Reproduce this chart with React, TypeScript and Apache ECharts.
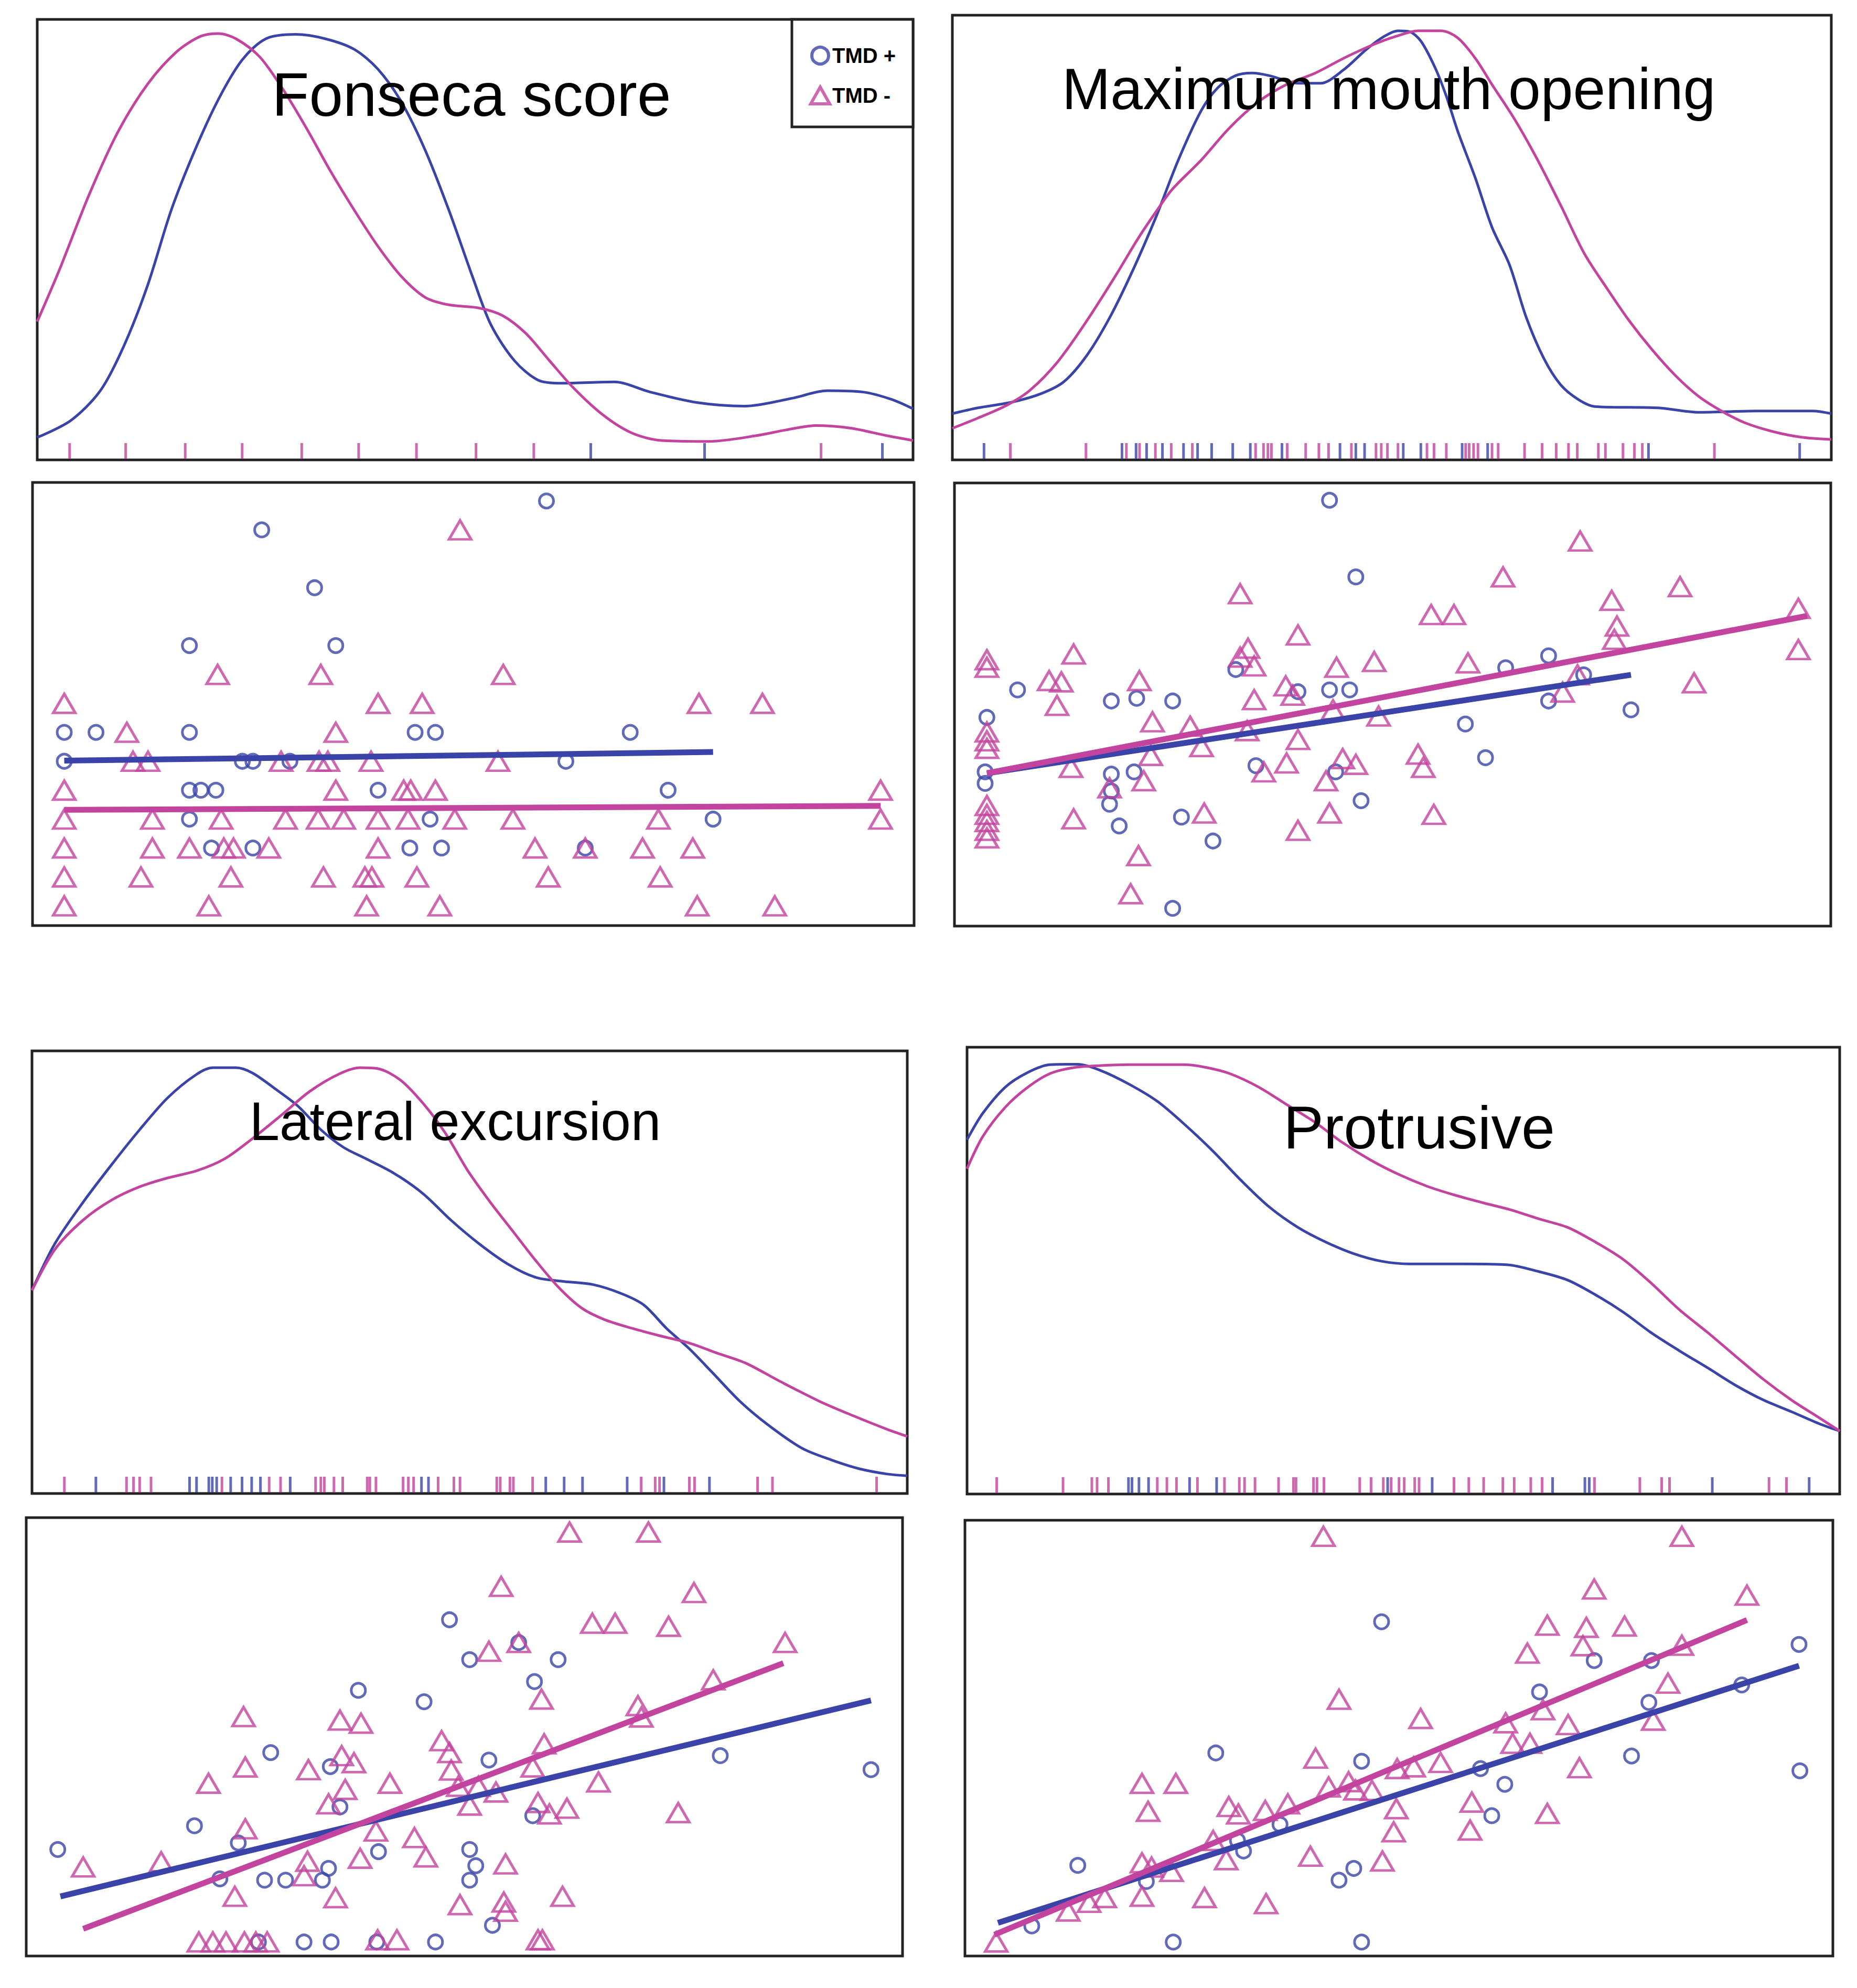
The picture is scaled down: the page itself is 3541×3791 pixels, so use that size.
import React, { useEffect, useRef } from 'react';
import * as echarts from 'echarts';

const BLUE = '#3a44a8';
const MAGENTA = '#c2449e';
const FONT = '"Liberation Sans", Arial, Helvetica, sans-serif';

const panelTitles = ['Fonseca score', 'Maximum mouth opening', 'Lateral excursion', 'Protrusive'];
const legendNames = ['TMD +', 'TMD -'];

// ---- Fonseca score (x: % of range, y: density % of panel) ----
const fonsecaDensityPos = [
  [0, 5.1], [3.8, 8.9], [7.2, 15.7], [9.9, 25.9], [12.6, 39.6], [15.3, 56.7], [18.0, 70.3], [20.7, 81.9],
  [23.4, 90.8], [26.1, 95.6], [29.5, 96.6], [32.9, 95.6], [36.2, 93.2], [38.9, 88.7], [41.6, 81.2], [44.3, 70.3],
  [47.0, 56.7], [49.7, 41.6], [51.8, 30.7], [54.5, 22.5], [57.2, 18.1], [59.9, 17.4], [65.9, 17.7], [70.0, 15.4],
  [75.4, 13.0], [80.8, 12.2], [86.2, 14.0], [90.2, 15.7], [94.3, 15.4], [97.6, 13.7], [100, 11.6],
];
const fonsecaDensityNeg = [
  [0, 31.4], [2.5, 43.0], [5.9, 60.1], [9.2, 74.4], [12.6, 85.3], [16.0, 92.8], [18.7, 96.2], [20.7, 96.8],
  [22.7, 95.6], [25.4, 91.5], [28.1, 84.0], [30.8, 75.1], [33.5, 65.5], [36.2, 56.7], [38.9, 48.5], [41.6, 41.6],
  [44.3, 36.9], [47.0, 35.2], [50.4, 34.5], [53.1, 32.8], [55.8, 28.7], [58.5, 22.5], [61.2, 16.4], [64.6, 10.2],
  [67.9, 6.1], [71.3, 4.4], [76.7, 4.2], [82.1, 5.5], [85.5, 6.8], [88.9, 7.8], [92.9, 7.2], [97.0, 5.5], [100, 4.4],
];
const fonsecaRugPos = [63.2, 76.2, 96.5];
const fonsecaRugNeg = [3.7, 10.1, 16.9, 23.4, 30.2, 36.7, 43.3, 50.1, 56.7, 89.5];
// y is the score level (0..14)
const fonsecaScatterPos = [
  [58.3, 14], [26.0, 13], [32.0, 11], [17.8, 9], [34.4, 9],
  [3.6, 6], [7.2, 6], [17.8, 6], [43.4, 6], [45.7, 6], [67.8, 6],
  [3.6, 5], [23.8, 5], [25.0, 5], [29.2, 5], [60.5, 5],
  [17.8, 4], [19.1, 4], [20.8, 4], [39.2, 4], [72.1, 4],
  [17.8, 3], [45.1, 3], [77.2, 3],
  [20.3, 2], [25.0, 2], [42.8, 2], [46.4, 2], [62.7, 2],
];
const fonsecaScatterNeg = [
  [48.5, 13],
  [21.0, 8], [32.7, 8], [53.4, 8],
  [3.6, 7], [39.2, 7], [44.2, 7], [75.6, 7], [82.8, 7],
  [10.7, 6], [34.4, 6],
  [11.4, 5], [13.1, 5], [28.2, 5], [32.5, 5], [33.5, 5], [38.4, 5], [52.8, 5],
  [3.6, 4], [34.4, 4], [42.1, 4], [42.9, 4], [45.7, 4], [96.2, 4],
  [3.6, 3], [13.6, 3], [21.4, 3], [28.7, 3], [32.4, 3], [35.3, 3], [39.2, 3], [42.6, 3], [47.9, 3], [54.5, 3], [71.0, 3], [96.2, 3],
  [3.6, 2], [13.6, 2], [17.8, 2], [21.7, 2], [22.8, 2], [26.8, 2], [39.2, 2], [57.0, 2], [62.7, 2], [69.2, 2], [74.9, 2],
  [3.6, 1], [12.3, 1], [22.5, 1], [33.0, 1], [37.7, 1], [38.5, 1], [43.6, 1], [58.5, 1], [71.2, 1],
  [3.6, 0], [20.0, 0], [37.9, 0], [46.2, 0], [75.4, 0], [84.2, 0],
];
const fonsecaFitPos = [[3.6, 5.02], [77.2, 5.32]];
const fonsecaFitNeg = [[3.6, 3.32], [96.2, 3.46]];

// ---- Maximum mouth opening ----
const mouthDensityPos = [
  [0, 10.4], [2.9, 11.7], [6.8, 13.0], [10.1, 14.9], [12.7, 17.6], [15.3, 23.5], [17.9, 32.0], [20.5, 42.5],
  [23.1, 54.3], [25.7, 67.4], [28.3, 78.5], [30.2, 83.7], [32.2, 86.4], [34.1, 87.0], [36.1, 86.4], [39.3, 84.7],
  [41.9, 84.7], [44.5, 87.7], [47.1, 92.3], [49.1, 95.2], [50.7, 96.5], [52.0, 96.3], [53.3, 94.2], [54.9, 88.3],
  [56.2, 81.8], [57.5, 73.9], [59.5, 63.4], [61.4, 52.3], [63.4, 43.8], [65.3, 32.0], [67.3, 22.8], [69.2, 16.9],
  [71.2, 13.6], [73.1, 12.0], [80.3, 11.7], [84.9, 10.7], [91.4, 11.0], [97.9, 11.0], [100, 10.4],
];
const mouthDensityNeg = [
  [0, 7.1], [2.9, 9.4], [6.2, 12.3], [8.8, 15.6], [12.0, 22.1], [15.3, 31.3], [18.5, 41.2], [21.1, 49.7],
  [23.1, 55.6], [25.0, 60.8], [28.3, 67.4], [31.5, 74.6], [34.8, 80.5], [38.0, 84.4], [41.3, 87.0], [44.5, 90.3],
  [47.8, 93.3], [50.4, 95.2], [53.0, 96.5], [55.6, 96.5], [57.5, 94.9], [59.5, 90.3], [61.4, 84.4], [64.0, 76.5],
  [66.6, 67.4], [69.3, 56.9], [71.9, 46.4], [74.5, 38.5], [77.0, 31.3], [79.6, 24.8], [82.3, 18.9], [84.9, 14.3],
  [87.5, 11.0], [90.1, 8.4], [93.3, 6.4], [96.6, 5.1], [100, 4.6],
];
const mouthRugPos = [3.6, 19.3, 20.9, 22.1, 23.9, 26.3, 27.9, 29.5, 31.9, 33.9, 37.5, 44.1, 45.9, 46.9, 51.3, 53.3, 58.0, 60.9, 79.2, 96.4];
const mouthRugNeg = [
  6.6, 15.2, 19.8, 21.3, 23.1, 24.9, 27.3, 34.5, 35.4, 35.9, 36.3, 38.1, 40.2, 41.7, 42.8, 45.4, 48.2, 48.8, 49.5, 50.7,
  54.0, 54.8, 56.2, 58.4, 58.8, 59.3, 59.8, 61.4, 62.1, 65.1, 67.1, 68.7, 70.1, 71.1, 73.5, 74.3, 76.3, 77.6, 78.5, 86.7,
];
const mouthScatterPos = [
  [42.8, 96.1], [45.8, 78.8], [7.2, 53.3], [17.9, 50.8], [20.8, 51.4], [24.9, 50.8], [3.7, 47.1], [32.1, 57.9],
  [39.2, 52.9], [42.8, 53.3], [45.1, 53.3], [62.9, 58.3], [67.8, 61.0], [71.8, 56.7], [67.8, 50.8], [77.2, 48.8],
  [58.3, 45.6], [60.6, 38.0], [34.4, 36.2], [43.5, 34.8], [46.4, 28.3], [3.5, 34.8], [3.5, 32.2], [17.9, 34.3],
  [20.5, 34.8], [17.9, 30.5], [17.7, 27.5], [18.8, 22.6], [25.9, 24.6], [29.5, 19.2], [24.9, 4.0],
];
const mouthScatterNeg = [
  [32.6, 75.0], [62.6, 78.8], [71.4, 86.9], [82.8, 76.6], [75.0, 73.5], [54.4, 70.3], [57.0, 70.3], [96.3, 71.7],
  [75.6, 67.7], [75.3, 64.7], [96.3, 62.4], [39.2, 65.7], [13.6, 61.4], [3.7, 60.1], [3.7, 58.4], [33.5, 62.7],
  [32.6, 60.7], [34.2, 58.7], [43.6, 58.4], [47.9, 59.7], [58.6, 59.4], [10.8, 55.4], [12.2, 55.1], [21.1, 55.4],
  [37.8, 54.2], [38.6, 52.1], [11.7, 49.8], [34.2, 51.1], [84.4, 54.9], [69.4, 52.8], [71.1, 56.7], [22.6, 46.1],
  [26.9, 45.1], [3.7, 43.8], [3.7, 41.8], [3.7, 40.1], [28.2, 40.5], [22.4, 38.5], [39.2, 42.1], [48.4, 47.4],
  [43.2, 48.8], [13.3, 35.8], [21.6, 32.8], [35.3, 34.8], [37.9, 36.8], [44.3, 37.8], [45.8, 36.5], [42.4, 32.8],
  [52.9, 38.8], [53.5, 35.8], [17.7, 31.2], [3.7, 27.2], [3.7, 25.2], [3.7, 23.6], [3.7, 21.6], [3.7, 19.9],
  [13.6, 24.2], [28.5, 25.5], [42.8, 25.5], [54.7, 25.2], [39.2, 21.6], [21.0, 15.9], [20.1, 7.3], [33.4, 44.1],
];
const mouthFitPos = [[3.7, 34.5], [77.2, 56.7]];
const mouthFitNeg = [[3.7, 34.5], [97.3, 70.0]];

// ---- Lateral excursion ----
const lateralDensityPos = [
  [0, 45.9], [2.6, 56.4], [5.8, 65.7], [9.1, 74.3], [12.3, 82.2], [15.5, 89.4], [18.8, 94.7], [20.7, 96.2],
  [23.3, 96.2], [25.2, 95.0], [27.8, 91.4], [30.4, 87.5], [33.0, 82.2], [35.6, 78.2], [38.2, 75.6], [41.4, 72.3],
  [44.7, 67.7], [47.9, 61.7], [51.1, 56.4], [54.4, 51.8], [57.6, 48.8], [60.8, 47.9], [64.1, 47.2], [67.3, 45.2],
  [69.9, 42.6], [72.5, 37.3], [75.1, 32.7], [77.7, 27.4], [80.9, 20.8], [84.1, 15.5], [88.0, 10.2], [91.3, 7.6],
  [94.5, 5.6], [97.7, 4.4], [100, 4.0],
];
const lateralDensityNeg = [
  [0, 45.9], [2.6, 55.1], [5.8, 61.7], [9.1, 66.3], [12.3, 69.3], [15.5, 71.3], [18.8, 72.9], [22.0, 75.6],
  [25.2, 80.2], [28.5, 85.5], [31.7, 90.8], [35.0, 94.7], [37.5, 96.2], [39.5, 96.0], [42.1, 93.4], [44.7, 88.1],
  [47.2, 81.5], [49.8, 72.9], [52.4, 65.7], [55.0, 59.1], [57.6, 52.5], [60.2, 46.5], [62.8, 41.9], [65.4, 39.3],
  [68.6, 37.3], [71.8, 35.6], [75.1, 34.0], [78.3, 31.7], [81.6, 29.4], [85.4, 25.4], [90.0, 20.8], [93.9, 17.5],
  [97.7, 14.5], [100, 12.9],
];
const lateralRugPos = [7.3, 18.0, 18.8, 20.2, 20.6, 21.1, 22.7, 24.0, 25.1, 26.1, 29.5, 44.5, 45.3, 58.7, 60.8, 62.9, 68.0, 72.2, 77.4];
const lateralRugNeg = [
  3.7, 10.8, 11.6, 12.3, 13.6, 21.7, 27.1, 28.4, 32.4, 33.0, 33.4, 34.5, 35.5, 38.3, 38.6, 39.3, 42.4, 43.0,
  43.6, 46.4, 48.2, 48.9, 53.1, 53.5, 54.6, 55.0, 57.2, 69.6, 71.2, 71.7, 75.1, 75.7, 82.9, 84.6, 96.5,
];
const lateralScatterPos = [
  [3.6, 24.3], [19.2, 29.7], [24.2, 25.8], [27.9, 46.4], [34.7, 43.2], [35.8, 34.0], [37.9, 60.6], [45.4, 58.0],
  [48.3, 76.7], [50.6, 67.6], [56.2, 71.5], [60.7, 67.6], [58.0, 62.6], [52.8, 44.7], [57.8, 32.0], [79.2, 45.7],
  [96.4, 42.5], [40.2, 23.8], [34.5, 20.0], [27.2, 17.3], [29.6, 17.3], [33.8, 17.3], [22.1, 17.6], [50.6, 24.3],
  [51.3, 20.6], [50.6, 17.3], [53.2, 7.0], [31.7, 3.2], [34.8, 3.2], [40.0, 3.2], [46.7, 3.2], [26.5, 3.2],
];
const lateralScatterNeg = [
  [62.0, 96.7], [71.0, 96.7], [54.2, 84.3], [76.2, 82.9], [64.6, 75.9], [67.2, 75.9], [73.3, 75.2], [86.6, 71.5],
  [52.8, 69.5], [56.2, 71.5], [58.8, 58.6], [78.4, 63.0], [69.8, 57.1], [70.2, 54.5], [24.8, 54.6], [35.8, 53.8],
  [38.2, 53.1], [47.4, 49.1], [48.3, 46.4], [48.5, 42.4], [59.1, 48.4], [57.8, 43.1], [36.0, 45.7], [37.4, 44.1],
  [25.0, 43.1], [32.2, 42.5], [20.8, 39.4], [41.5, 39.4], [65.3, 39.7], [36.4, 38.0], [34.5, 34.7], [50.6, 34.4],
  [49.3, 38.7], [51.6, 38.7], [53.6, 37.4], [58.4, 35.0], [59.7, 32.4], [61.7, 33.7], [74.4, 32.7], [25.0, 29.0],
  [39.9, 28.5], [44.3, 27.0], [45.6, 22.6], [38.1, 22.3], [32.1, 21.6], [31.7, 18.3], [15.4, 21.5], [6.5, 20.3],
  [54.7, 21.0], [23.8, 13.6], [35.3, 13.3], [49.5, 11.7], [54.5, 12.3], [54.7, 10.2], [61.2, 13.6], [19.7, 3.2],
  [21.3, 3.2], [22.8, 3.2], [24.9, 3.2], [26.2, 3.2], [27.5, 3.2], [40.1, 3.7], [42.3, 3.7], [58.4, 3.7], [58.9, 3.7],
];
const lateralFitPos = [[3.9, 13.6], [96.4, 58.3]];
const lateralFitNeg = [[6.5, 6.2], [86.4, 66.8]];

// ---- Protrusive ----
const protrusiveDensityPos = [
  [0, 79.3], [1.8, 85.2], [4.4, 91.1], [7.0, 94.4], [9.5, 96.1], [12.7, 96.2], [15.3, 94.8], [18.5, 91.8],
  [21.8, 87.9], [25.0, 82.6], [28.2, 76.7], [31.4, 70.2], [34.6, 64.3], [37.9, 59.7], [41.1, 56.4], [44.3, 53.8],
  [47.5, 52.1], [50.7, 51.5], [57.2, 51.5], [62.0, 51.3], [65.5, 49.8], [68.8, 47.9], [72.0, 44.6], [75.2, 40.7],
  [78.4, 36.1], [81.6, 32.1], [84.9, 28.2], [88.1, 24.3], [91.3, 21.0], [94.5, 18.4], [97.7, 15.7], [100, 14.1],
];
const protrusiveDensityNeg = [
  [0, 72.8], [1.8, 80.0], [4.4, 86.6], [7.0, 91.1], [9.5, 94.1], [12.1, 95.4], [15.3, 95.9], [18.5, 96.1],
  [25.0, 96.1], [27.6, 95.4], [30.1, 94.1], [33.4, 91.1], [36.6, 87.2], [39.8, 83.3], [43.0, 78.7], [46.2, 74.8],
  [49.5, 71.5], [52.7, 68.9], [55.9, 66.9], [59.1, 65.2], [62.3, 63.6], [65.5, 61.6], [68.8, 59.7], [72.0, 56.4],
  [75.2, 52.5], [78.4, 47.2], [81.6, 41.3], [84.9, 36.1], [88.1, 30.8], [91.3, 25.6], [94.5, 21.0], [97.7, 17.0], [100, 14.1],
];
const protrusiveRugPos = [18.5, 18.9, 19.7, 20.8, 25.5, 28.6, 48.2, 53.3, 67.1, 70.8, 71.3, 85.4, 96.5];
const protrusiveRugNeg = [
  3.4, 11.0, 14.3, 14.9, 16.2, 21.8, 22.9, 24.0, 26.4, 29.5, 31.2, 31.8, 33.0, 35.7, 37.4, 37.7, 39.7, 40.1, 40.9, 45.0,
  46.3, 47.7, 48.6, 49.5, 50.1, 51.3, 51.8, 55.8, 57.5, 59.2, 61.4, 62.7, 64.6, 65.9, 71.9, 77.1, 79.6, 80.5, 91.9, 93.9,
];
const protrusiveScatterPos = [
  [48.0, 76.7], [96.1, 71.5], [72.5, 67.8], [79.1, 67.8], [66.2, 60.6], [78.8, 58.2], [89.5, 62.2], [28.9, 46.6],
  [45.7, 44.7], [76.8, 45.9], [96.2, 42.5], [59.4, 43.0], [62.2, 39.4], [60.7, 32.2], [36.3, 30.2], [32.1, 24.1],
  [31.4, 26.5], [13.0, 20.8], [20.9, 17.1], [44.8, 20.1], [43.1, 17.4], [7.7, 6.9], [24.0, 3.2], [45.7, 3.2],
];
const protrusiveScatterNeg = [
  [41.3, 96.3], [82.6, 96.3], [72.5, 84.2], [90.1, 82.8], [67.1, 75.9], [71.6, 75.4], [76.0, 75.7], [64.8, 69.5],
  [71.2, 71.2], [82.6, 71.3], [81.0, 62.6], [43.1, 58.9], [66.6, 56.5], [52.5, 54.5], [62.3, 53.5], [69.5, 53.1],
  [79.3, 54.1], [63.1, 48.8], [65.1, 48.8], [70.8, 43.2], [40.4, 45.4], [54.8, 44.4], [51.7, 43.4], [49.8, 43.0],
  [20.4, 39.6], [24.3, 39.6], [41.9, 38.8], [44.2, 40.0], [45.0, 38.1], [46.9, 38.0], [21.1, 33.2], [30.4, 34.3],
  [31.5, 32.6], [34.6, 33.4], [37.2, 34.9], [49.7, 33.8], [58.4, 35.3], [67.1, 32.7], [49.4, 28.5], [58.2, 28.9],
  [28.6, 26.5], [30.1, 22.1], [39.8, 22.9], [48.1, 21.8], [20.4, 21.4], [21.5, 20.4], [23.8, 19.4], [20.4, 13.7],
  [27.6, 13.4], [34.7, 12.0], [16.1, 13.4], [14.3, 12.3], [11.9, 10.3], [3.6, 3.2],
];
const protrusiveFitPos = [[3.8, 7.6], [96.1, 66.6]];
const protrusiveFitNeg = [[3.4, 4.9], [90.1, 77.1]];

const panelData = [
  { densPos: fonsecaDensityPos, densNeg: fonsecaDensityNeg, rugPos: fonsecaRugPos, rugNeg: fonsecaRugNeg, ptsPos: fonsecaScatterPos, ptsNeg: fonsecaScatterNeg, fitPos: fonsecaFitPos, fitNeg: fonsecaFitNeg },
  { densPos: mouthDensityPos, densNeg: mouthDensityNeg, rugPos: mouthRugPos, rugNeg: mouthRugNeg, ptsPos: mouthScatterPos, ptsNeg: mouthScatterNeg, fitPos: mouthFitPos, fitNeg: mouthFitNeg },
  { densPos: lateralDensityPos, densNeg: lateralDensityNeg, rugPos: lateralRugPos, rugNeg: lateralRugNeg, ptsPos: lateralScatterPos, ptsNeg: lateralScatterNeg, fitPos: lateralFitPos, fitNeg: lateralFitNeg },
  { densPos: protrusiveDensityPos, densNeg: protrusiveDensityNeg, rugPos: protrusiveRugPos, rugNeg: protrusiveRugNeg, ptsPos: protrusiveScatterPos, ptsNeg: protrusiveScatterNeg, fitPos: protrusiveFitPos, fitNeg: protrusiveFitNeg },
];

// layout in page pixels
const layout = [
  { dens: { left: 71, top: 37, width: 1670, height: 840 }, scat: { left: 62, top: 920, width: 1681, height: 845 }, title: { x: 899, y: 181, size: 116 } },
  { dens: { left: 1816, top: 29, width: 1676, height: 848 }, scat: { left: 1820, top: 921, width: 1671, height: 845 }, title: { x: 2648, y: 170, size: 111 } },
  { dens: { left: 61, top: 2004, width: 1669, height: 844 }, scat: { left: 50, top: 2894, width: 1671, height: 836 }, title: { x: 868, y: 2138, size: 103 } },
  { dens: { left: 1844, top: 1997, width: 1664, height: 852 }, scat: { left: 1840, top: 2899, width: 1655, height: 831 }, title: { x: 2706, y: 2150, size: 115 } },
];

const hollow = (color: string) => ({ color: 'rgba(0,0,0,0)', borderColor: color, borderWidth: 5 });

const App: React.FC = () => {
  const chartRef = useRef<HTMLDivElement>(null);

  useEffect(() => {
    document.body.style.margin = '0';
    if (!chartRef.current) return;
    const chart = echarts.init(chartRef.current, undefined, { renderer: 'svg' });

    const grids: any[] = [];
    const xAxes: any[] = [];
    const yAxes: any[] = [];
    const series: any[] = [];

    layout.forEach((l, p) => {
      const d = panelData[p];
      const gd = p * 2;
      const gs = p * 2 + 1;
      [l.dens, l.scat].forEach((box) => {
        grids.push({ ...box, show: true, borderColor: '#222', borderWidth: 5, backgroundColor: '#fff' });
      });
      xAxes.push({ type: 'value', gridIndex: gd, min: 0, max: 100, show: false });
      yAxes.push({ type: 'value', gridIndex: gd, min: 0, max: 100, show: false });
      xAxes.push({ type: 'value', gridIndex: gs, min: 0, max: 100, show: false });
      yAxes.push(
        p === 0
          ? { type: 'value', gridIndex: gs, min: -0.68, max: 14.64, show: false }
          : { type: 'value', gridIndex: gs, min: 0, max: 100, show: false }
      );

      // density curves
      [
        { data: d.densPos, color: BLUE },
        { data: d.densNeg, color: MAGENTA },
      ].forEach((c) => {
        series.push({
          type: 'line', xAxisIndex: gd, yAxisIndex: gd, data: c.data, smooth: 0.3, symbol: 'none',
          lineStyle: { color: c.color, width: 5 }, silent: true, z: 3,
        });
      });
      // rug marks
      [
        { data: d.rugNeg, color: MAGENTA },
        { data: d.rugPos, color: BLUE },
      ].forEach((c) => {
        series.push({
          type: 'scatter', xAxisIndex: gd, yAxisIndex: gd, data: c.data.map((v) => [v, 0]),
          symbol: 'rect', symbolSize: [5, 30], symbolOffset: [0, -17], clip: false,
          itemStyle: { color: c.color }, silent: true, z: 2,
        });
      });
      // scatter points
      series.push({
        name: legendNames[0], type: 'scatter', xAxisIndex: gs, yAxisIndex: gs, data: d.ptsPos,
        symbol: 'circle', symbolSize: 27, itemStyle: hollow(BLUE), silent: true, z: 3,
      });
      series.push({
        name: legendNames[1], type: 'scatter', xAxisIndex: gs, yAxisIndex: gs, data: d.ptsNeg,
        symbol: 'triangle', symbolSize: [42, 36], itemStyle: hollow(MAGENTA), silent: true, z: 3,
      });
      // fitted lines
      [
        { data: d.fitPos, color: BLUE },
        { data: d.fitNeg, color: MAGENTA },
      ].forEach((c) => {
        series.push({
          type: 'line', xAxisIndex: gs, yAxisIndex: gs, data: c.data, symbol: 'none',
          lineStyle: { color: c.color, width: 11 }, silent: true, z: 4,
        });
      });
    });

    const option: any = {
      animation: false,
      backgroundColor: '#fff',
      grid: grids,
      xAxis: xAxes,
      yAxis: yAxes,
      series,
      legend: {
        orient: 'vertical',
        left: 1543,
        top: 86,
        padding: 0,
        itemWidth: 36,
        itemHeight: 32,
        itemGap: 36,
        selectedMode: false,
        textStyle: { fontSize: 40, fontWeight: 'bold', color: '#000', fontFamily: FONT },
        data: [
          { name: legendNames[0], icon: 'circle', itemStyle: { color: 'rgba(0,0,0,0)', borderColor: BLUE, borderWidth: 6 } },
          { name: legendNames[1], icon: 'triangle', itemStyle: { color: 'rgba(0,0,0,0)', borderColor: MAGENTA, borderWidth: 6 } },
        ],
        z: 20,
      },
      graphic: [
        {
          type: 'rect', z: 15,
          shape: { x: 1510, y: 37, width: 231, height: 205 },
          style: { fill: '#fff', stroke: '#222', lineWidth: 5 },
        },
        ...layout.map((l, i) => ({
          type: 'text', z: 30,
          x: l.title.x, y: l.title.y,
          style: {
            text: panelTitles[i], fill: '#000', fontSize: l.title.size, fontFamily: FONT,
            textAlign: 'center', textVerticalAlign: 'middle', align: 'center', verticalAlign: 'middle',
          },
        })),
      ],
    };

    chart.setOption(option);
    return () => {
      chart.dispose();
    };
  }, []);

  return <div ref={chartRef} style={{ width: 3541, height: 3791 }} />;
};

export default App;
